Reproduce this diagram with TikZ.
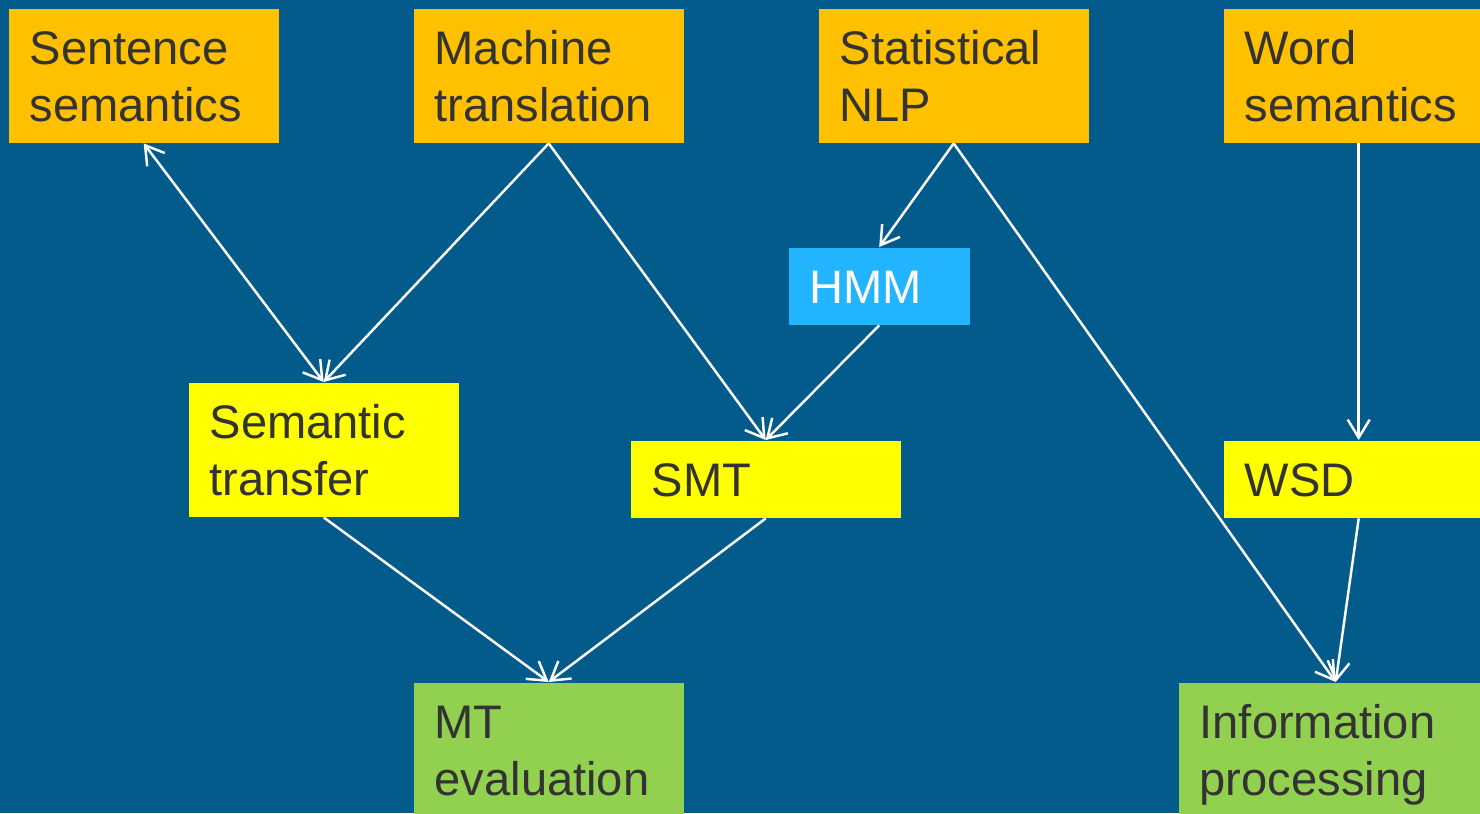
\documentclass[tikz,border=0pt]{standalone}
\usepackage{fontspec}
\setmainfont{Liberation Sans}
\usetikzlibrary{arrows.meta}

\definecolor{slidebg}{HTML}{035B8C}
\definecolor{topic}{HTML}{FFC000}
\definecolor{method}{HTML}{FFFF00}
\definecolor{task}{HTML}{92D050}
\definecolor{model}{HTML}{22B4FF}
\definecolor{ink}{HTML}{333333}

\tikzset{
  box/.style={anchor=north west,inner xsep=2.1mm,inner ysep=0pt,text width=22.8mm,align=left,
    text=ink,font=\fontsize{13.4}{16.2}\selectfont,text height=5.55mm},
  tall/.style={box,text depth=7.85mm},
  short/.style={box,text depth=2.15mm},
  link/.style={white,line width=0.7pt,->}
}

\begin{document}
\begin{tikzpicture}[>={Straight Barb[length=1.8mm,width=2.2mm]}]
        \useasboundingbox (0,0) rectangle (14.8,8.13);
        \fill[slidebg] (0,0) rectangle (14.8,8.13);

        % top row
        \node[tall,fill=topic] (sent) at (0.08,8.05) {Sentence\\semantics};
        \node[tall,fill=topic] (mt) at (4.13,8.05) {Machine\\translation};
        \node[tall,fill=topic] (stat) at (8.18,8.05) {Statistical\\NLP};
        \node[tall,fill=topic] (word) at (12.23,8.05) {Word\\semantics};

        \node[short,fill=model,text=white,text width=13.9mm] (hmm) at (7.88,5.66) {HMM};

        % middle row
        \node[tall,fill=method] (transfer) at (1.88,4.31) {Semantic\\transfer};
        \node[short,fill=method] (smt) at (6.30,3.73) {SMT};
        \node[short,fill=method] (wsd) at (12.23,3.73) {WSD};

        % bottom row
        \node[tall,fill=task] (eval) at (4.13,1.31) {MT\\evaluation};
        \node[tall,fill=task,text width=27.2mm] (info) at (11.78,1.31) {Information\\processing};

        \draw[link,<->] (sent.south) -- (transfer.north);
        \draw[link] (mt.south) -- (transfer.north);
        \draw[link] (mt.south) -- (smt.north);
        \draw[link] (stat.south) -- (hmm.north);
        \draw[link] (hmm.south) -- (smt.north);
        \draw[link] (stat.south) -- (info.north);
        \draw[link] (word.south) -- (wsd.north);
        \draw[link] (transfer.south) -- (eval.north);
        \draw[link] (smt.south) -- (eval.north);
        \draw[link] (wsd.south) -- (info.north);

    \end{tikzpicture}
\end{document}
